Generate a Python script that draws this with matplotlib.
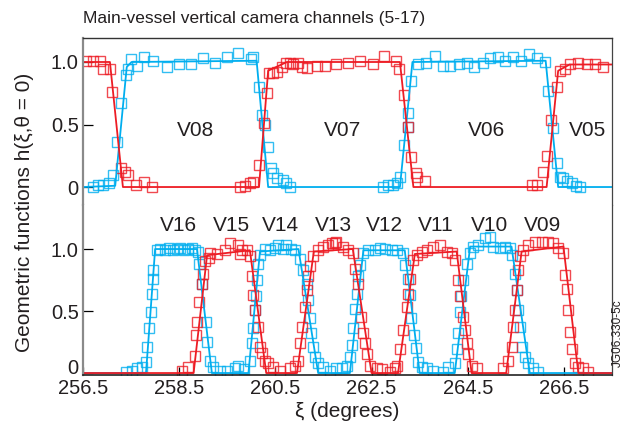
import matplotlib
matplotlib.use("Agg")
import matplotlib.pyplot as plt
from matplotlib.transforms import ScaledTranslation

plt.rcParams["font.family"] = ["Liberation Sans", "DejaVu Sans"]

RED = "#ed1c24"
BLUE = "#00aeef"
TXT = "#231f20"

# ---------------- top panel (V05-V08) ----------------
top_red_line_x = [256.5, 257.06, 257.33, 260.16, 260.35, 260.74, 263.09, 263.37, 266.14, 266.38, 266.62, 267.5]
top_red_line_y = [1.0, 1.0, 0.0, 0.0, 0.93, 1.0, 1.0, 0.0, 0.0, 0.93, 0.98, 0.98]
top_blue_line_x = [256.5, 257.17, 257.41, 257.51, 260.11, 260.35, 263.09, 263.35, 266.12, 266.38, 267.5]
top_blue_line_y = [0.0, 0.01, 0.96, 1.0, 1.01, 0.0, 0.0, 1.0, 1.01, 0.0, 0.0]

top_red_x = [256.56, 256.71, 256.85, 256.92, 257.06, 257.10, 257.30, 257.37, 257.44, 257.60, 257.77, 257.93,
             259.76, 259.87, 259.97, 260.03, 260.16, 260.27, 260.32, 260.37, 260.46, 260.53, 260.63, 260.73,
             260.80, 260.87, 260.98, 261.05, 261.15, 261.36, 261.53, 261.77, 262.02, 262.27, 262.52, 262.76,
             263.01, 263.08, 263.17, 263.26, 263.33, 263.42, 263.45, 263.61, 265.83, 265.93, 266.07, 266.14,
             266.24, 266.35, 266.42, 266.52, 266.62, 266.80, 266.97, 267.14, 267.32]
top_red_y = [1.01, 1.01, 1.01, 0.94, 0.94, 0.76, 0.15, 0.12, 0.10, 0.02, 0.04, 0.0,
             0.0, 0.01, 0.03, 0.04, 0.18, 0.51, 0.75, 0.91, 0.91, 0.92, 0.96, 0.99,
             0.99, 0.98, 0.99, 0.96, 0.95, 0.97, 0.97, 0.98, 0.99, 1.01, 0.98, 1.05,
             1.01, 0.94, 0.74, 0.48, 0.24, 0.11, 0.08, 0.05, 0.02, 0.02, 0.12, 0.25,
             0.54, 0.80, 0.93, 0.94, 0.98, 0.99, 0.98, 0.98, 0.96]

top_blue_x = [256.71, 256.82, 256.92, 257.05, 257.12, 257.20, 257.28, 257.39, 257.44, 257.49, 257.63, 257.77,
              257.96, 258.25, 258.50, 258.74, 259.00, 259.24, 259.49, 259.73, 259.99, 260.04, 260.15, 260.22,
              260.28, 260.35, 260.40, 260.46, 260.54, 260.65, 260.73, 260.80,
              262.74, 262.85, 262.94, 263.02, 263.09, 263.17, 263.26, 263.26, 263.33, 263.47, 263.64, 263.82,
              263.98, 264.14, 264.32, 264.48, 264.63, 264.81, 264.96, 265.13, 265.27, 265.45, 265.60, 265.78,
              265.94, 266.10, 266.17, 266.27, 266.35, 266.42, 266.49, 266.57, 266.66, 266.76, 266.83]
top_blue_y = [0.0, 0.02, 0.02, 0.03, 0.10, 0.36, 0.67, 0.90, 0.94, 1.02, 0.97, 1.04,
              1.01, 0.96, 0.98, 0.98, 1.03, 0.99, 1.04, 1.07, 1.02, 1.04, 0.80, 0.58,
              0.50, 0.32, 0.15, 0.11, 0.07, 0.06, 0.03, 0.0,
              0.0, 0.02, 0.02, 0.03, 0.08, 0.34, 0.48, 0.59, 0.85, 0.98, 0.99, 1.05,
              0.97, 0.97, 0.98, 0.99, 0.96, 0.99, 1.03, 1.04, 1.01, 1.04, 1.01, 1.06,
              1.03, 1.00, 0.77, 0.47, 0.19, 0.08, 0.07, 0.05, 0.03, 0.01, 0.0]

top_labels = ["V08", "V07", "V06", "V05"]
top_label_x = [258.83, 261.9, 264.89, 266.99]

# ---------------- bottom panel (V09-V16) ----------------
bot_red_line_x = [256.5, 258.80, 259.08, 259.97, 260.31, 260.95, 261.30, 262.11, 262.50, 263.05, 263.40,
                  264.27, 264.58, 265.30, 265.62, 266.49, 266.80, 267.5]
bot_red_line_y = [0.0, 0.0, 0.95, 0.99, 0.0, 0.0, 0.98, 1.0, 0.0, 0.0, 0.96,
                  0.98, 0.0, 0.0, 0.98, 1.02, 0.0, 0.0]
bot_blue_line_x = [256.5, 257.81, 258.0, 258.87, 259.18, 259.94, 260.18, 260.98, 261.39, 262.05, 262.33,
                   263.19, 263.50, 264.23, 264.55, 265.41, 265.79, 267.5]
bot_blue_line_y = [0.0, 0.0, 1.0, 1.0, 0.0, 0.0, 0.98, 1.0, 0.0, 0.0, 0.99,
                   0.99, 0.0, 0.0, 1.02, 1.02, 0.0, 0.0]

bot_blue_x = [257.39, 257.51, 257.62, 257.72, 257.81, 257.84, 257.88, 257.91, 257.94, 257.95, 257.96, 258.03,
              258.10, 258.20, 258.29, 258.38, 258.45, 258.52, 258.60, 258.69, 258.77, 258.83, 258.90, 258.91,
              258.97, 259.06, 259.08, 259.14, 259.21, 259.35, 259.49, 259.66, 259.73,
              259.85, 259.97, 260.01, 260.04, 260.08, 260.09, 260.11, 260.14, 260.18, 260.28, 260.39, 260.49,
              260.56, 260.66, 260.73, 260.82, 260.91, 261.01, 261.08, 261.15, 261.18, 261.22, 261.25, 261.29,
              261.32, 261.39, 261.50, 261.64, 261.77,
              261.88, 261.98, 262.05, 262.09, 262.12, 262.15, 262.19, 262.22, 262.26, 262.33, 262.43, 262.57,
              262.67, 262.78, 262.92, 263.02, 263.16, 263.19, 263.26, 263.30, 263.33, 263.38, 263.42, 263.47,
              263.54, 263.65, 263.78, 263.99,
              264.09, 264.23, 264.27, 264.30, 264.34, 264.37, 264.41, 264.48, 264.55, 264.61, 264.72, 264.86,
              264.96, 265.03, 265.17, 265.27, 265.38, 265.43, 265.48, 265.52, 265.55, 265.59, 265.62, 265.69,
              265.76, 265.86, 265.97]
bot_blue_y = [0.01, 0.02, 0.04, 0.05, 0.09, 0.21, 0.36, 0.49, 0.64, 0.76, 0.83, 0.99,
              1.00, 0.99, 1.01, 0.99, 1.00, 1.01, 0.99, 1.00, 1.01, 0.99, 0.98, 0.88,
              0.72, 0.41, 0.25, 0.10, 0.05, 0.02, 0.02, 0.04, 0.06,
              0.03, 0.10, 0.24, 0.36, 0.51, 0.62, 0.75, 0.88, 0.95, 1.00, 0.99, 1.01,
              1.03, 1.00, 1.03, 1.00, 0.99, 0.92, 0.83, 0.72, 0.59, 0.44, 0.32, 0.21,
              0.13, 0.08, 0.05, 0.02, 0.04,
              0.04, 0.06, 0.13, 0.23, 0.36, 0.52, 0.64, 0.78, 0.87, 0.97, 0.99, 0.99,
              1.01, 1.00, 0.99, 0.99, 0.97, 0.87, 0.76, 0.63, 0.44, 0.31, 0.20, 0.09,
              0.05, 0.04, 0.02, 0.01,
              0.05, 0.08, 0.19, 0.32, 0.49, 0.62, 0.75, 0.88, 0.97, 1.02, 1.03, 1.09,
              1.10, 1.02, 1.01, 1.02, 1.01, 0.95, 0.80, 0.67, 0.51, 0.37, 0.21, 0.13,
              0.08, 0.04, 0.01]

bot_red_x = [258.55, 258.69, 258.83, 258.86, 258.88, 258.92, 258.97, 258.99, 259.04, 259.11, 259.14, 259.28,
             259.45, 259.56, 259.73, 259.76, 259.80, 259.90, 259.97, 260.01, 260.04, 260.08, 260.14, 260.18,
             260.22, 260.28, 260.35, 260.46, 260.60, 260.80, 260.91,
             260.98, 261.01, 261.05, 261.12, 261.15, 261.18, 261.22, 261.29, 261.39, 261.50, 261.60, 261.67,
             261.74, 261.77, 261.91, 262.02, 262.12, 262.15, 262.22, 262.29, 262.33, 262.36, 262.40, 262.47,
             262.61, 262.71, 262.88, 262.99,
             263.02, 263.09, 263.16, 263.23, 263.26, 263.30, 263.37, 263.44, 263.54, 263.65, 263.78, 263.92,
             264.06, 264.17, 264.23, 264.30, 264.34, 264.41, 264.44, 264.48, 264.51, 264.58, 264.69,
             265.24, 265.34, 265.41, 265.45, 265.48, 265.52, 265.55, 265.59, 265.65, 265.76, 265.90, 266.04,
             266.17, 266.28, 266.38, 266.49, 266.52, 266.56, 266.59, 266.62, 266.66, 266.73, 266.80, 266.90,
             267.01]
bot_red_y = [0.02, 0.05, 0.14, 0.31, 0.41, 0.57, 0.72, 0.80, 0.90, 0.93, 0.97, 0.96,
             0.99, 1.05, 1.03, 0.96, 0.99, 0.99, 0.94, 0.78, 0.63, 0.51, 0.37, 0.21,
             0.16, 0.10, 0.08, 0.05, 0.02, 0.04, 0.06,
             0.10, 0.24, 0.37, 0.53, 0.67, 0.78, 0.86, 0.94, 0.99, 1.02, 1.03, 1.05,
             1.05, 1.06, 1.02, 0.99, 0.97, 0.84, 0.72, 0.45, 0.32, 0.24, 0.15, 0.06,
             0.04, 0.03, 0.01, 0.04,
             0.06, 0.19, 0.35, 0.53, 0.64, 0.76, 0.91, 0.95, 0.98, 0.99, 1.02, 1.03,
             0.98, 0.97, 0.91, 0.75, 0.62, 0.45, 0.35, 0.24, 0.15, 0.06, 0.04,
             0.04, 0.10, 0.21, 0.37, 0.51, 0.67, 0.83, 0.94, 0.99, 1.03, 1.06, 1.06,
             1.06, 1.05, 1.01, 0.97, 0.79, 0.68, 0.51, 0.33, 0.19, 0.08, 0.05, 0.04,
             0.01]

bot_labels = ["V16", "V15", "V14", "V13", "V12", "V11", "V10", "V09"]
bot_label_x = [258.49, 259.59, 260.6, 261.7, 262.77, 263.83, 264.96, 266.05]

x_ticks = [256.5, 258.5, 260.5, 262.5, 264.5, 266.5]


fig = plt.figure(figsize=(6.24, 4.25), dpi=100)
ax_top = fig.add_axes([0.133, 0.5176, 0.8478, 0.393])
ax_bot = fig.add_axes([0.133, 0.1176, 0.8478, 0.4])

mk = dict(marker="s", linestyle="none", markersize=7.5, markerfacecolor="none",
          markeredgewidth=1.0, alpha=0.8)

for ax, lines, pts in [
    (ax_top,
     [(top_blue_line_x, top_blue_line_y, BLUE), (top_red_line_x, top_red_line_y, RED)],
     [(top_blue_x, top_blue_y, BLUE), (top_red_x, top_red_y, RED)]),
    (ax_bot,
     [(bot_blue_line_x, bot_blue_line_y, BLUE), (bot_red_line_x, bot_red_line_y, RED)],
     [(bot_blue_x, bot_blue_y, BLUE), (bot_red_x, bot_red_y, RED)]),
]:
    for x, y, c in pts:
        ax.plot(x, y, markeredgecolor=c, **mk)
    for x, y, c in lines:
        ax.plot(x, y, color=c, lw=1.3)

    ax.set_xlim(256.5, 267.5)
    ax.set_yticks([0, 0.5, 1.0])
    ax.set_yticklabels(["0", "0.5", "1.0"])
    ax.tick_params(axis="y", direction="in", length=7, width=0.9, labelsize=14.5,
                   labelcolor=TXT, pad=3)
    ax.spines["left"].set_color("#8a8a8a")
    ax.spines["left"].set_linewidth(1.6)
    ax.spines["right"].set_color("#444444")
    ax.spines["right"].set_linewidth(0.9)

ax_top.set_ylim(-0.144, 1.192)
ax_bot.set_ylim(-0.016, 1.355)

ax_top.spines["bottom"].set_visible(False)
ax_top.spines["top"].set_color("#333333")
ax_top.spines["top"].set_linewidth(1.0)
ax_top.set_xticks([])

ax_bot.spines["top"].set_visible(False)
ax_bot.spines["bottom"].set_color("#222222")
ax_bot.spines["bottom"].set_linewidth(1.2)
ax_bot.set_xticks(x_ticks)
ax_bot.set_xticklabels([f"{t:.1f}" for t in x_ticks])
ax_bot.tick_params(axis="x", direction="in", length=6, width=0.9, labelsize=14.5,
                   labelcolor=TXT, pad=3)

# lift the bottom-panel "0" a little so it clears the x tick labels
zero_lab = ax_bot.get_yticklabels()[0]
zero_lab.set_transform(zero_lab.get_transform() + ScaledTranslation(0, 5 / 72, fig.dpi_scale_trans))

for lab, x in zip(top_labels, top_label_x):
    ax_top.text(x, 0.45, lab, ha="center", va="center", fontsize=15, color=TXT)
for lab, x in zip(bot_labels, bot_label_x):
    ax_bot.text(x, 1.19, lab, ha="center", va="center", fontsize=15, color=TXT)

fig.text(0.133, 1 - 18 / 425, "Main-vessel vertical camera channels (5-17)",
         ha="left", va="center", fontsize=12.5, color=TXT)
fig.text(0.04, 0.5, "Geometric functions h(\u03be,\u03b8 = 0)", rotation=90,
         ha="center", va="center", fontsize=15, color=TXT)
ax_bot.set_xlabel("\u03be (degrees)", fontsize=15, color=TXT, labelpad=3)
fig.text(0.99, 0.215, "JG06.330-5c", rotation=90, ha="center", va="center",
         fontsize=8.5, color=TXT)

fig.savefig("out.png", dpi=100)
